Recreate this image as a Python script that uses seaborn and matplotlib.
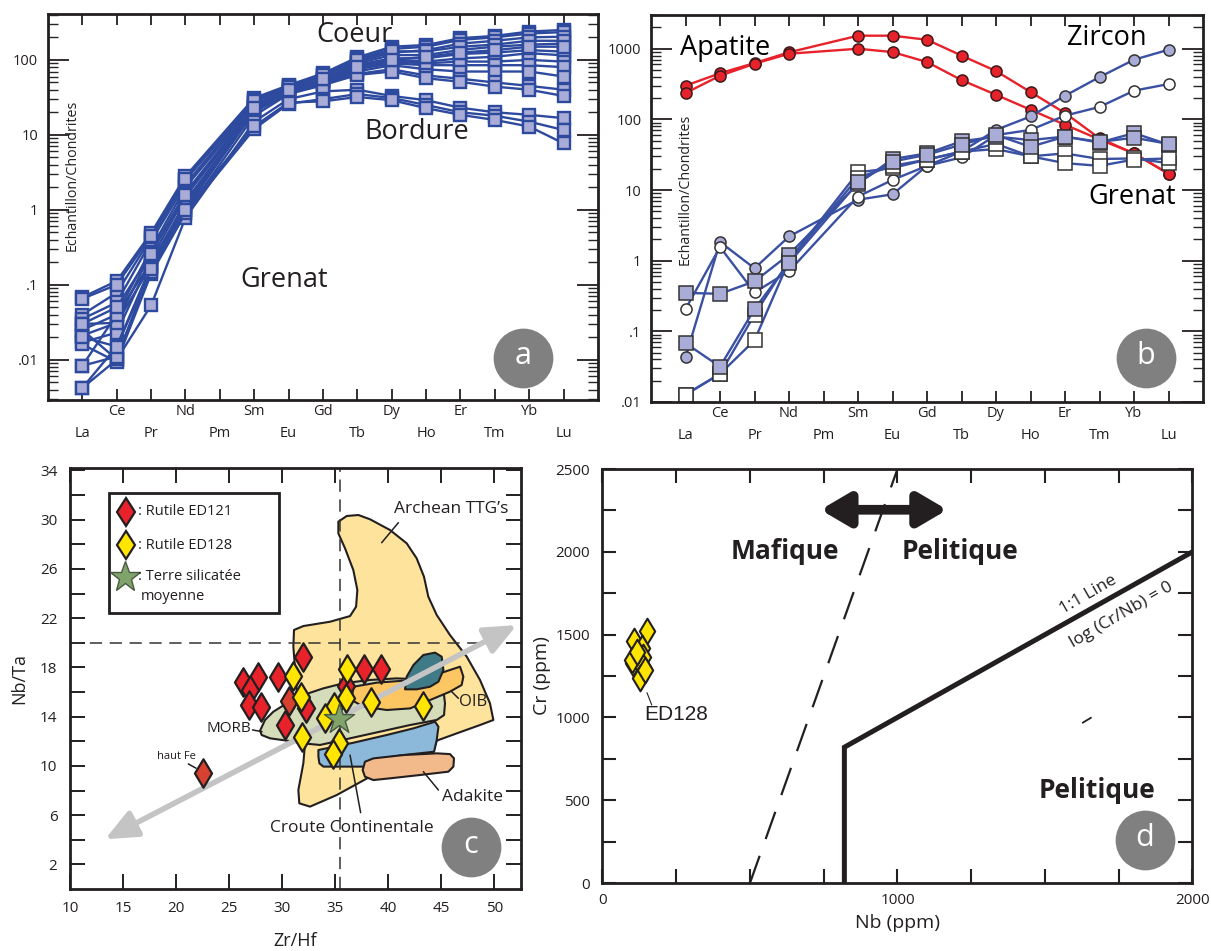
import numpy as np
import pandas as pd
import matplotlib
matplotlib.use("Agg")
import matplotlib.pyplot as plt
import seaborn as sns
from matplotlib.ticker import FixedLocator, FixedFormatter, NullFormatter, LogLocator, MultipleLocator
from matplotlib.patches import Polygon, Rectangle

# ---------------- DATA ----------------
ree_all = ["La", "Ce", "Pr", "Nd", "Pm", "Sm", "Eu", "Gd", "Tb", "Dy", "Ho", "Er", "Tm", "Yb", "Lu"]
ree_meas = ["La", "Ce", "Pr", "Nd", "Sm", "Eu", "Gd", "Tb", "Dy", "Ho", "Er", "Tm", "Yb", "Lu"]

# panel a : garnet spectra (normalised to chondrites)
grenat_a = [
    [0.068, 0.112, 0.49, 2.8, 31, 46, 66, 108, 150, 158, 195, 209, 239, 251],
    [0.040, 0.078, 0.42, 2.5, 29, 45, 63, 102, 140, 150, 185, 200, 225, 235],
    [0.035, 0.058, 0.38, 2.2, 27, 43, 60, 95, 125, 135, 165, 180, 200, 204],
    [0.025, 0.040, 0.30, 2.0, 25, 41, 56, 90, 116, 116, 136, 150, 160, 165],
    [0.021, 0.031, 0.27, 1.7, 24, 40, 54, 86, 105, 105, 120, 125, 135, 129],
    [0.017, 0.023, 0.22, 1.5, 23, 39, 52, 82, 100, 95, 105, 110, 123, 115],
    [0.030, 0.031, 0.18, 1.3, 22, 38, 51, 78, 95, 90, 95, 95, 100, 95],
    [0.0083, 0.040, 0.20, 1.2, 22, 37, 50, 75, 90, 85, 85, 85, 85, 80],
    [0.0042, 0.015, 0.18, 1.1, 20, 36, 48, 70, 85, 75, 70, 70, 70, 60],
    [0.0042, 0.010, 0.17, 1.0, 21, 36, 47, 65, 75, 62, 56, 50, 45, 40],
    [0.016, 0.0094, 0.14, 0.9, 18, 35, 46, 63, 70, 57, 51, 44, 40, 33],
    [0.025, 0.0101, 0.053, 0.78, 15, 30, 38, 40, 33, 29, 23, 20, 18.5, 16.7],
    [0.0083, 0.011, 0.15, 0.9, 12, 26, 30, 35, 31, 25, 20, 18, 15, 11.6],
    [0.020, 0.015, 0.16, 1.0, 13, 27, 28, 32, 29, 22.7, 18.5, 15.8, 12.9, 7.7],
    [0.065, 0.10, 0.45, 2.6, 28, 44, 62, 100, 130, 130, 150, 160, 180, 180],
    [0.030, 0.050, 0.26, 1.6, 23, 40, 55, 80, 100, 110, 125, 135, 150, 150],
]

# panel b
apatite_1 = [300, 450, 627, 890, 1530, 1530, 1340, 800, 483, 244, 123, 54, 33, 17]
apatite_2 = [236, 415, 613, 850, 1000, 897, 648, 360, 223, 137, 84, 52, 33, 17]
zircon_1 = [0.043, 1.84, 0.78, 2.2, 7.3, 8.7, 22, 35, 71, 110, 216, 397, 699, 968]
zircon_2 = [0.207, 1.56, 0.356, 0.71, 8.1, 13.9, 22, 29, 60, 71, 113, 150, 255, 316]
grenat_b1 = [0.35, 0.34, 0.51, 1.22, 12.3, 27.5, 33, 49, 57, 51, 57, 47, 64, 44]
grenat_b2 = [0.068, 0.0316, 0.207, 0.93, 12.8, 25.3, 31.6, 44, 60, 41, 57, 48, 55, 45]
grenat_b3 = [0.0127, 0.025, 0.0746, 1.0, 17.8, 20.5, 27, 35, 38, 30, 33, 27.5, 28, 24]
grenat_b4 = [0.0127, 0.025, 0.172, 1.0, 15, 22, 27, 35, 45, 30, 24, 22, 27, 28]

# panel c : Zr/Hf vs Nb/Ta
ed121_zrhf = [26.27, 27.75, 26.97, 26.90, 28.00, 29.63, 31.93, 32.24, 30.26, 36.01, 37.74, 39.31]
ed121_nbta = [16.85, 17.25, 16.17, 14.95, 14.82, 17.20, 18.82, 14.68, 13.33, 16.49, 17.84, 17.84]
ed121_dark_zrhf = [30.67, 22.50]
ed121_dark_nbta = [15.30, 9.40]
ed128_zrhf = [30.99, 31.80, 34.90, 34.03, 31.90, 35.38, 34.82, 36.08, 36.01, 38.34, 43.30]
ed128_nbta = [17.31, 15.63, 14.81, 13.87, 12.38, 11.90, 10.93, 17.84, 15.49, 15.22, 14.86]
terre_zrhf = [35.38]
terre_nbta = [13.78]

ttg_x = [35.29, 36.08, 37.18, 38.28, 40.16, 41.73, 42.67, 43.36, 43.77, 44.56, 45.81, 47.39, 48.64,
         49.58, 49.90, 48.64, 46.44, 44.56, 44.24, 42.05, 38.28, 35.13, 32.62, 31.61, 31.52, 31.99,
         32.15, 31.83, 31.36, 31.05, 31.11, 31.99, 34.50, 36.39, 36.96, 37.08, 36.70, 35.92, 35.29]
ttg_y = [29.84, 30.30, 30.38, 30.03, 29.16, 28.08, 26.86, 25.37, 23.74, 22.26, 20.63, 18.87, 16.98,
         15.08, 13.73, 13.32, 12.64, 12.05, 11.15, 10.48, 9.12, 7.63, 6.69, 6.96, 8.04, 10.21,
         11.83, 14.00, 16.16, 19.68, 21.04, 21.36, 21.71, 22.17, 22.93, 24.29, 25.91, 27.67, 28.89]
morb_x = [27.91, 28.38, 29.16, 30.42, 31.99, 33.88, 35.76, 38.27, 40.79, 42.99, 44.56, 45.19, 45.34,
          45.25, 44.56, 42.05, 39.22, 36.39, 33.56, 31.99, 30.42, 28.85, 28.06]
morb_y = [12.86, 13.73, 14.40, 15.08, 15.76, 16.30, 16.71, 16.98, 17.11, 17.03, 16.71, 16.16, 15.08,
          14.13, 13.73, 13.32, 12.78, 12.24, 11.70, 11.83, 12.05, 12.24, 12.51]
croute_x = [33.41, 36.70, 39.85, 42.36, 44.40, 44.72, 44.56, 44.31, 41.42, 38.27, 37.65, 33.88, 33.50, 33.41]
croute_y = [11.29, 11.88, 12.51, 13.05, 13.59, 13.18, 12.10, 11.15, 10.88, 10.48, 9.94, 9.94, 10.21, 10.75]
adakite_x = [37.80, 38.59, 41.42, 44.56, 45.81, 46.19, 46.13, 45.66, 42.99, 40.16, 38.59, 37.80, 37.58]
adakite_y = [10.34, 10.61, 10.88, 11.02, 10.96, 10.61, 9.94, 9.53, 9.26, 8.99, 8.85, 9.12, 9.66]
oib_x = [36.70, 38.90, 41.42, 43.93, 45.81, 46.76, 47.07, 46.91, 45.81, 43.93, 42.05, 39.85, 37.65, 36.55]
oib_y = [16.43, 16.76, 16.92, 17.25, 17.79, 18.06, 17.25, 16.57, 16.03, 15.35, 14.67, 14.54, 14.81, 15.35]
teal_x = [41.57, 41.73, 42.36, 43.30, 44.40, 45.03, 45.19, 44.72, 43.93, 42.67]
teal_y = [16.22, 17.25, 18.19, 19.01, 19.20, 18.87, 17.79, 16.84, 16.43, 16.22]
nbta_chondrite = 20.0
zrhf_chondrite = 35.4
trend_start = (13.3, 4.04)
trend_end = (52.1, 21.44)

# panel d : Nb vs Cr
ed128_nb = [150, 108, 133, 138, 104, 136, 127, 144, 99, 118]
ed128_cr = [1522, 1461, 1417, 1367, 1327, 1306, 1236, 1286, 1347, 1395]
mafic_pelitic_nb = [500, 1000]
mafic_pelitic_cr = [0, 2500]
boundary_nb = [820, 820, 2000]
boundary_cr = [0, 820, 2000]
stray_nb = [1628, 1656]
stray_cr = [968, 998]

# ---------------- STYLE ----------------
sns.set_theme(style="ticks")
plt.rcParams["font.family"] = ["Open Sans", "DejaVu Sans"]
plt.rcParams["axes.linewidth"] = 2.0
plt.rcParams["axes.edgecolor"] = "#231f20"

BLUE = "#2e4a9e"
BLUE_B = "#3a50a3"
LAV = "#a9acd6"
RED = "#e8222a"
DARK = "#231f20"
GREY_C = "#808080"

fig = plt.figure(figsize=(12.11, 9.51), dpi=100)

pos_all = list(range(1, 16))
pos_meas = [p for p, e in zip(pos_all, ree_all) if e != "Pm"]


def ree_axis(ax, ymin, ymax, yt, ytl):
    ax.set_yscale("log")
    ax.set_xlim(0, 16)
    ax.set_ylim(ymin, ymax)
    odd = [i for i in range(15) if i % 2 == 0]
    even = [i for i in range(15) if i % 2 == 1]
    ax.xaxis.set_major_locator(FixedLocator([pos_all[i] for i in odd]))
    ax.xaxis.set_major_formatter(FixedFormatter([ree_all[i] for i in odd]))
    ax.xaxis.set_minor_locator(FixedLocator([pos_all[i] for i in even]))
    ax.xaxis.set_minor_formatter(FixedFormatter([ree_all[i] for i in even]))
    ax.tick_params(axis="x", which="major", direction="in", length=8, width=1.3, pad=19,
                   top=True, bottom=True, labelsize=10.5, colors=DARK)
    ax.tick_params(axis="x", which="minor", direction="in", length=8, width=1.3, pad=3,
                   top=True, bottom=True, labelsize=10.5, colors=DARK)
    ax.yaxis.set_major_locator(FixedLocator(yt))
    ax.yaxis.set_major_formatter(FixedFormatter(ytl))
    ax.yaxis.set_minor_locator(LogLocator(base=10, subs=np.arange(2, 10)))
    ax.yaxis.set_minor_formatter(NullFormatter())
    ax.tick_params(axis="y", which="major", direction="in", length=15, width=1.3, pad=7,
                   left=True, right=True, labelsize=10.5, colors=DARK)
    ax.tick_params(axis="y", which="minor", direction="in", length=7, width=1.0,
                   left=True, right=True)
    ax.set_xlabel("")
    ax.set_ylabel("")


def badge(ax, x, y, letter):
    ax.scatter([x], [y], s=1850, color=GREY_C, transform=ax.transAxes, zorder=20,
               clip_on=False, linewidths=0)
    ax.text(x, y + 0.005, letter, color="white", fontsize=22, ha="center", va="center",
            transform=ax.transAxes, zorder=21)


# ---------------- PANEL A ----------------
axa = fig.add_axes([0.0396, 0.5794, 0.4542, 0.4059])
axa.set_yscale("log")
rows = []
for k, s in enumerate(grenat_a):
    for p, v in zip(pos_meas, s):
        rows.append({"sample": k, "pos": p, "val": v})
dfa = pd.DataFrame(rows)
sns.lineplot(data=dfa, x="pos", y="val", units="sample", estimator=None, ax=axa,
             color=BLUE, lw=1.7, marker="s", markersize=8.5, markerfacecolor=LAV,
             markeredgecolor=BLUE, markeredgewidth=1.7, legend=False)
ree_axis(axa, 0.0029, 410, [0.01, 0.1, 1, 10, 100], [".01", ".1", "1", "10", "100"])
axa.text(0.558, 0.946, "Coeur", transform=axa.transAxes, fontsize=19.5, ha="center", va="center", color=DARK)
axa.text(0.671, 0.694, "Bordure", transform=axa.transAxes, fontsize=19.5, ha="center", va="center", color=DARK)
axa.text(0.429, 0.311, "Grenat", transform=axa.transAxes, fontsize=19.5, ha="center", va="center", color=DARK)
axa.text(0.044, 0.583, "Echantillon/Chondrites", transform=axa.transAxes, fontsize=10.3,
         rotation=90, ha="center", va="center", color=DARK)
badge(axa, 0.8636, 0.1088, "a")

# ---------------- PANEL B ----------------
axb = fig.add_axes([0.5376, 0.5773, 0.4558, 0.4069])
axb.set_yscale("log")


def spectrum(ax, vals, line_c, face, edge, marker, ms):
    d = pd.DataFrame({"pos": pos_meas, "val": vals})
    sns.lineplot(data=d, x="pos", y="val", estimator=None, ax=ax, color=line_c, lw=1.7,
                 marker=marker, markersize=ms, markerfacecolor=face, markeredgecolor=edge,
                 markeredgewidth=1.1, legend=False)


spectrum(axb, apatite_1, RED, RED, "#3a1a1a", "o", 8)
spectrum(axb, apatite_2, RED, RED, "#3a1a1a", "o", 8)
spectrum(axb, zircon_1, BLUE_B, LAV, "#333333", "o", 8)
spectrum(axb, zircon_2, BLUE_B, "white", "#333333", "o", 8)
spectrum(axb, grenat_b3, BLUE_B, "white", "#333333", "s", 9.5)
spectrum(axb, grenat_b4, BLUE_B, "white", "#333333", "s", 9.5)
spectrum(axb, grenat_b1, BLUE_B, LAV, "#333333", "s", 9.5)
spectrum(axb, grenat_b2, BLUE_B, LAV, "#333333", "s", 9.5)
ree_axis(axb, 0.01, 3000, [0.01, 0.1, 1, 10, 100, 1000], [".01", ".1", "1", "10", "100", "1000"])
axb.text(0.134, 0.915, "Apatite", transform=axb.transAxes, fontsize=19.5, ha="center", va="center", color="black")
axb.text(0.826, 0.941, "Zircon", transform=axb.transAxes, fontsize=19.5, ha="center", va="center", color="black")
axb.text(0.871, 0.530, "Grenat", transform=axb.transAxes, fontsize=19.5, ha="center", va="center", color="black")
axb.text(0.062, 0.550, "Echantillon/Chondrites", transform=axb.transAxes, fontsize=10.3,
         rotation=90, ha="center", va="center", color=DARK)
badge(axb, 0.8967, 0.1137, "b")

# ---------------- PANEL C ----------------
axc = fig.add_axes([0.0578, 0.0652, 0.3724, 0.4427])
fields = [
    (ttg_x, ttg_y, "#fde39b"),
    (croute_x, croute_y, "#8cb8d9"),
    (morb_x, morb_y, "#d5dcb9"),
    (adakite_x, adakite_y, "#f2b98a"),
    (oib_x, oib_y, "#fcc763"),
    (teal_x, teal_y, "#3f7b86"),
]
for fx, fy, col in fields:
    axc.add_patch(Polygon(np.column_stack([fx, fy]), closed=True, facecolor=col,
                          edgecolor=DARK, lw=1.5, joinstyle="round", zorder=1))
axc.axhline(nbta_chondrite, color="#333333", lw=1.1, ls=(0, (8, 5)), zorder=2)
axc.axvline(zrhf_chondrite, color="#333333", lw=1.1, ls=(0, (8, 5)), zorder=2)
axc.annotate("", xy=trend_end, xytext=trend_start,
             arrowprops=dict(arrowstyle="<|-|>,head_length=1.6,head_width=0.7", lw=4,
                             color="#c4c4c4", mutation_scale=12, shrinkA=0, shrinkB=0),
             zorder=2)
sns.scatterplot(x=ed121_zrhf, y=ed121_nbta, ax=axc, marker="d", s=210, color=RED,
                edgecolor=DARK, linewidth=1.6, zorder=5, legend=False)
sns.scatterplot(x=ed121_dark_zrhf, y=ed121_dark_nbta, ax=axc, marker="d", s=210, color="#d8412f",
                edgecolor=DARK, linewidth=1.6, zorder=5, legend=False)
sns.scatterplot(x=ed128_zrhf, y=ed128_nbta, ax=axc, marker="d", s=210, color="#ffe500",
                edgecolor=DARK, linewidth=1.6, zorder=5, legend=False)
sns.scatterplot(x=terre_zrhf, y=terre_nbta, ax=axc, marker="*", s=520, color="#7fa36a",
                edgecolor="#4a5a40", linewidth=1.0, zorder=6, legend=False)
axc.set_xlim(10, 52.5)
axc.set_ylim(0, 34.2)
axc.xaxis.set_major_locator(MultipleLocator(5))
axc.yaxis.set_major_locator(FixedLocator([2, 6, 10, 14, 18, 22, 26, 30, 34]))
axc.yaxis.set_minor_locator(FixedLocator([4, 8, 12, 16, 20, 24, 28, 32]))
axc.tick_params(which="both", direction="in", length=11, width=1.4, top=True, right=True,
                labelsize=11, colors=DARK)
axc.tick_params(axis="x", pad=9)
axc.tick_params(axis="y", pad=9)
axc.set_xlabel("Zr/Hf", fontsize=13, color=DARK)
axc.set_ylabel("Nb/Ta", fontsize=13, color=DARK)
axc.xaxis.set_label_coords(0.5, -0.103)
axc.yaxis.set_label_coords(-0.093, 0.5)
# legend box
axc.add_patch(Rectangle((0.0865, 0.6556), 0.3765, 0.285, transform=axc.transAxes, fill=True,
                        facecolor="white", edgecolor=DARK, lw=2, zorder=7))
axc.plot([0.1235], [0.896], transform=axc.transAxes, marker="d", ms=14.5, mfc=RED, mec=DARK,
         mew=1.6, zorder=8, ls="none")
axc.plot([0.1235], [0.817], transform=axc.transAxes, marker="d", ms=14.5, mfc="#ffe500", mec=DARK,
         mew=1.6, zorder=8, ls="none")
axc.plot([0.1215], [0.742], transform=axc.transAxes, marker="*", ms=23, mfc="#7fa36a", mec="#4a5a40",
         mew=1.0, zorder=8, ls="none")
axc.text(0.150, 0.896, ": Rutile ED121", transform=axc.transAxes, fontsize=10.5, va="center", zorder=8, color=DARK)
axc.text(0.150, 0.817, ": Rutile ED128", transform=axc.transAxes, fontsize=10.5, va="center", zorder=8, color=DARK)
axc.text(0.150, 0.742, ": Terre silicatée", transform=axc.transAxes, fontsize=10.5, va="center", zorder=8, color=DARK)
axc.text(0.157, 0.694, "moyenne", transform=axc.transAxes, fontsize=10.5, va="center", zorder=8, color=DARK)
# field labels
axc.text(45.94, 30.84, "Archean TTG’s", fontsize=12.5, ha="center", va="center", color=DARK)
axc.plot([40.95, 39.37], [29.76, 28.13], color=DARK, lw=1.1)
axc.text(48.0, 15.22, "OIB", fontsize=12, ha="center", va="center", color=DARK, zorder=8)
axc.plot([45.97, 46.6], [16.03, 15.49], color=DARK, lw=1.1, zorder=8)
axc.text(47.9, 7.47, "Adakite", fontsize=12.5, ha="center", va="center", color=DARK)
axc.plot([43.30, 44.72], [9.53, 8.04], color=DARK, lw=1.1)
axc.text(36.58, 4.96, "Croute Continentale", fontsize=12.5, ha="center", va="center", color=DARK)
axc.plot([36.39, 37.39], [10.88, 6.2], color=DARK, lw=1.1, zorder=3)
axc.text(27.1, 13.0, "MORB", fontsize=11, ha="right", va="center", color=DARK)
axc.plot([27.2, 28.1], [12.92, 12.78], color=DARK, lw=1.1)
axc.text(20.06, 10.75, "haut Fe", fontsize=8, ha="center", va="center", color=DARK)
axc.plot([21.15, 21.88], [10.16, 9.81], color=DARK, lw=1.1)
badge(axc, 0.889, 0.0998, "c")

# ---------------- PANEL D ----------------
axd = fig.add_axes([0.4975, 0.0715, 0.4872, 0.4353])
axd.plot(mafic_pelitic_nb, mafic_pelitic_cr, color=DARK, lw=1.6, ls=(0, (13, 8)))
axd.plot(boundary_nb, boundary_cr, color=DARK, lw=3.6, solid_joinstyle="miter")
axd.plot(stray_nb, stray_cr, color=DARK, lw=1.3)
sns.scatterplot(x=ed128_nb, y=ed128_cr, ax=axd, marker="d", s=170, color="#ffe500",
                edgecolor=DARK, linewidth=1.5, zorder=5, legend=False)
axd.annotate("", xy=(1169, 2254), xytext=(739, 2254),
             arrowprops=dict(arrowstyle="<|-|>,head_length=1.7,head_width=1.0", lw=7,
                             color=DARK, mutation_scale=10, shrinkA=0, shrinkB=0))
axd.set_xlim(0, 2000)
axd.set_ylim(0, 2500)
axd.xaxis.set_major_locator(MultipleLocator(1000))
axd.xaxis.set_minor_locator(MultipleLocator(250))
axd.yaxis.set_major_locator(MultipleLocator(500))
axd.yaxis.set_minor_locator(MultipleLocator(250))
axd.tick_params(which="both", direction="in", length=10, width=1.5, top=True, right=True,
                labelsize=11, colors=DARK)
axd.tick_params(axis="x", pad=7)
axd.tick_params(axis="y", pad=9)
axd.set_xlabel("Nb (ppm)", fontsize=14, color=DARK)
axd.set_ylabel("Cr (ppm)", fontsize=14, color=DARK)
axd.xaxis.set_label_coords(0.5, -0.075)
axd.yaxis.set_label_coords(-0.088, 0.5)
axd.text(619, 2002, "Mafique", fontsize=19, fontweight="bold", ha="center", va="center", color=DARK)
axd.text(1212, 2002, "Pelitique", fontsize=19, fontweight="bold", ha="center", va="center", color=DARK)
axd.text(1678, 560, "Pelitique", fontsize=19, fontweight="bold", ha="center", va="center", color=DARK)
axd.text(1647, 1739, "1:1 Line", fontsize=12.5, rotation=30, rotation_mode="anchor",
         ha="center", va="center", color=DARK)
axd.text(1760, 1618, "log (Cr/Nb) = 0", fontsize=12.5, rotation=30, rotation_mode="anchor",
         ha="center", va="center", color=DARK)
axd.text(251, 1020, "ED128", fontsize=15, family=["Liberation Sans", "DejaVu Sans"],
         ha="center", va="center", color=DARK)
axd.plot([151, 167], [1149, 1075], color=DARK, lw=0.8)
badge(axd, 0.9188, 0.1039, "d")

fig.savefig("out.png", dpi=100)
